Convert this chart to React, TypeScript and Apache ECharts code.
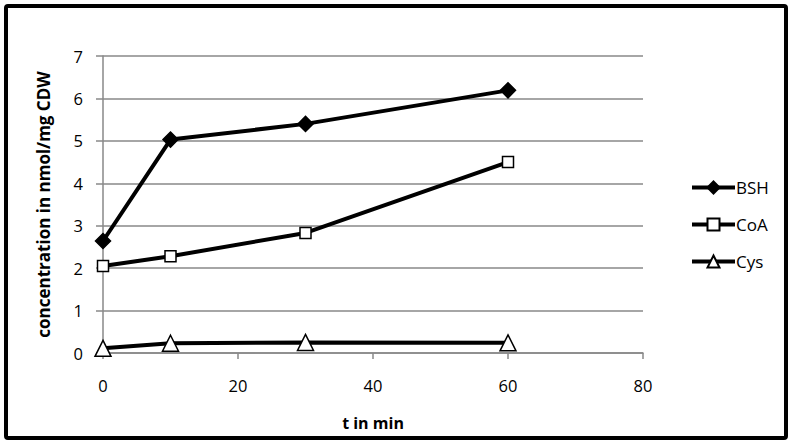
import React, { useEffect, useRef } from "react";
import * as echarts from "echarts";

const times = [0, 10, 30, 60];
const bsh = [2.64, 5.03, 5.4, 6.19];
const coa = [2.05, 2.28, 2.83, 4.5];
const cys = [0.11, 0.23, 0.25, 0.24];
const xTicks = [0, 20, 40, 60, 80];
const yTicks = [0, 1, 2, 3, 4, 5, 6, 7];

const FONT = "'Open Sans', 'Noto Sans', sans-serif";

export default function App() {
  const ref = useRef<HTMLDivElement>(null);
  useEffect(() => {
    if (!ref.current) return;
    const chart = echarts.init(ref.current, undefined, { renderer: "svg" });
    const mk = (name: string, vals: number[], symbol: string, size: number, fill: string) => ({
      name,
      type: "line",
      data: times.map((t, i) => [t, vals[i]]),
      symbol,
      symbolSize: size,
      showAllSymbol: true,
      lineStyle: { color: "#000", width: 4 },
      itemStyle: { color: fill, borderColor: "#000", borderWidth: 1.5 },
      z: 3,
    });
    chart.setOption({
      animation: false,
      backgroundColor: "#fff",
      textStyle: { fontFamily: FONT },
      graphic: [
        {
          type: "rect",
          shape: { x: 6, y: 6, width: 780, height: 432, r: 2 },
          style: { fill: "none", stroke: "#000", lineWidth: 4 },
          z: 10,
        },
      ],
      grid: { left: 103, top: 56, right: 149, bottom: 92, containLabel: false },
      legend: {
        orient: "vertical",
        left: 685,
        top: 174,
        itemWidth: 43,
        itemHeight: 15,
        itemGap: 20,
        lineStyle: { width: 4, color: "#000" },
        textStyle: { fontSize: 17, color: "#000", fontFamily: FONT, padding: [0, 0, 0, -4] },
        data: ["BSH", "CoA", "Cys"],
      },
      xAxis: {
        type: "value",
        min: 0,
        max: 80,
        interval: 20,
        name: "t in min",
        nameLocation: "middle",
        nameGap: 62,
        nameTextStyle: { fontWeight: "bold", fontSize: 16, color: "#000", fontFamily: FONT },
        axisLine: { lineStyle: { color: "#888", width: 1.5 } },
        axisTick: { show: true, length: 6, lineStyle: { color: "#888", width: 1.5 } },
        axisLabel: {
          fontSize: 16.5,
          color: "#000",
          margin: 24,
          formatter: (v: number) => (xTicks.includes(v) ? String(v) : ""),
        },
        splitLine: { show: false },
      },
      yAxis: {
        type: "value",
        min: 0,
        max: 7,
        interval: 1,
        name: "concentration in nmol/mg CDW",
        nameLocation: "middle",
        nameGap: 51,
        nameTextStyle: { fontWeight: "bold", fontSize: 17, color: "#000", fontFamily: FONT },
        axisLine: { show: true, lineStyle: { color: "#888", width: 1.5 } },
        axisTick: { show: true, length: 7, lineStyle: { color: "#888", width: 1.5 } },
        axisLabel: {
          fontSize: 16.5,
          color: "#000",
          margin: 20,
          formatter: (v: number) => (yTicks.includes(v) ? String(v) : ""),
        },
        splitLine: { show: true, lineStyle: { color: "#888", width: 1.5 } },
      },
      series: [
        mk("BSH", bsh, "diamond", 15, "#000"),
        mk("CoA", coa, "rect", 11, "#fff"),
        mk("Cys", cys, "triangle", 16, "#fff"),
      ],
    });
    return () => chart.dispose();
  }, []);
  return <div ref={ref} style={{ width: 792, height: 445, position: "absolute", left: 0, top: 0 }} />;
}
